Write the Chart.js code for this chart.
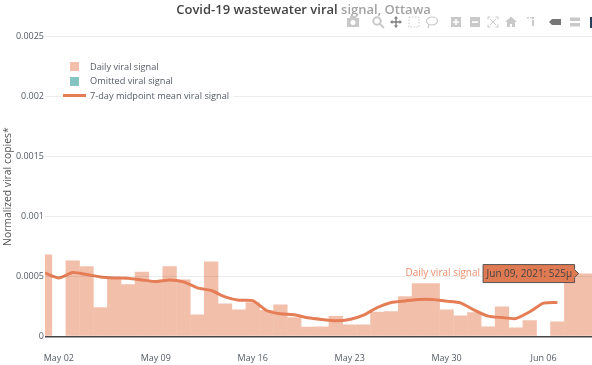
<!DOCTYPE html>
<html>
<head>
<meta charset="utf-8">
<script src="https://cdn.jsdelivr.net/npm/chart.js@4"></script>
<style>html,body{margin:0;padding:0;background:#fff}canvas{display:block}</style>
</head>
<body>
<canvas id="c" width="592" height="365" style="width:592px;height:365px"></canvas>
<script>
const days = ["May 01","May 02","May 03","May 04","May 05","May 06","May 07","May 08","May 09","May 10","May 11","May 12","May 13","May 14","May 15","May 16","May 17","May 18","May 19","May 20","May 21","May 22","May 23","May 24","May 25","May 26","May 27","May 28","May 29","May 30","May 31","Jun 01","Jun 02","Jun 03","Jun 04","Jun 05","Jun 06","Jun 07","Jun 08","Jun 09"];
const daily = [0.000685,null,0.000635,0.000585,0.000245,0.000495,0.000435,0.00054,0.00046,0.000585,0.000475,0.000183,0.000625,0.000275,0.000225,0.000286,0.000222,0.000267,0.000161,0.000081,0.000083,0.000172,0.0001,0.0001,0.000206,0.000211,0.000336,0.000445,0.000445,0.000225,0.000175,0.000203,0.000083,0.00025,0.000075,0.000136,null,0.000125,0.000517,0.000525];
const omitted = [];
const midpointMean = [0.000531,0.000489,0.000534,0.000517,0.000497,0.000489,0.000486,0.000472,0.000458,0.000472,0.000456,0.000406,0.000384,0.000331,0.000303,0.0003,0.000217,0.000189,0.000181,0.000156,0.000142,0.000131,0.000142,0.000178,0.000242,0.000284,0.000297,0.000309,0.000309,0.000295,0.000281,0.00022,0.00017,0.000158,0.00015,0.000206,0.000278,0.000284];
const tickDays = ["May 02","May 09","May 16","May 23","May 30","Jun 06"];
const yTicks = [0,0.0005,0.001,0.0015,0.002,0.0025];
const seriesLabels = ["Daily viral signal","Omitted viral signal","7-day midpoint mean viral signal"];
const titleText = "Covid-19 wastewater viral signal, Ottawa";
const hoverYear = "2021";

const FONT = '"Open Sans"';
const BAR = "#f2bfab", TEAL = "#84c5c2", LINE = "#e57e56", TEXT = "#555b66";
const toXY = arr => arr.map((v,i)=>({x:i,y:v}));

function icon(ctx,x,y,col,fn){ctx.save();ctx.translate(x,y);ctx.fillStyle=col;ctx.strokeStyle=col;ctx.lineWidth=1;fn(ctx);ctx.restore();}
function drawModebar(ctx){
  ctx.save();ctx.fillStyle="rgba(255,255,255,0.5)";ctx.fillRect(340,0,252,30);ctx.restore();
  const g="#c9c9c9",y=22;
  icon(ctx,353,y,g,c=>{c.fillRect(-6,-4,12,9);c.fillRect(-3,-6,6,2);c.fillStyle="#fff";c.beginPath();c.arc(0,0.5,2.5,0,7);c.fill();});
  icon(ctx,378,y,g,c=>{c.lineWidth=2;c.beginPath();c.arc(-1,-1,3.7,0,7);c.stroke();c.beginPath();c.moveTo(2,2);c.lineTo(6,6);c.stroke();});
  icon(ctx,396,y,"#7d7d7d",c=>{c.lineWidth=1.4;c.beginPath();c.moveTo(-5,0);c.lineTo(5,0);c.moveTo(0,-5);c.lineTo(0,5);c.stroke();
    [[-6,0,-3.5,-2,-3.5,2],[6,0,3.5,-2,3.5,2],[0,-6,-2,-3.5,2,-3.5],[0,6,-2,3.5,2,3.5]].forEach(p=>{c.beginPath();c.moveTo(p[0],p[1]);c.lineTo(p[2],p[3]);c.lineTo(p[4],p[5]);c.fill();});});
  icon(ctx,414,y,g,c=>{c.setLineDash([1.5,1.5]);c.strokeRect(-5,-5,10,10);});
  icon(ctx,432,y,g,c=>{c.lineWidth=1.2;c.beginPath();c.ellipse(0,-1,5.5,4,0,0,7);c.stroke();c.beginPath();c.moveTo(-3,2);c.lineTo(-4,6);c.stroke();});
  icon(ctx,456,y,g,c=>{c.fillRect(-5,-5,10,10);c.fillStyle="#fff";c.fillRect(-3,-0.7,6,1.6);c.fillRect(-0.8,-3,1.6,6);});
  icon(ctx,475,y,g,c=>{c.fillRect(-5,-5,10,10);c.fillStyle="#fff";c.fillRect(-3,-0.7,6,1.6);});
  icon(ctx,493,y,g,c=>{c.strokeRect(-5,-5,10,10);c.fillStyle="#fff";c.fillRect(-2.5,-6,5,12);c.fillRect(-6,-2.5,12,5);c.beginPath();c.moveTo(-3,-3);c.lineTo(3,3);c.moveTo(3,-3);c.lineTo(-3,3);c.stroke();});
  icon(ctx,511,y,g,c=>{c.beginPath();c.moveTo(-6,0);c.lineTo(0,-5.5);c.lineTo(6,0);c.lineTo(4,0);c.lineTo(4,5);c.lineTo(1,5);c.lineTo(1,2);c.lineTo(-1,2);c.lineTo(-1,5);c.lineTo(-4,5);c.lineTo(-4,0);c.closePath();c.fill();});
  icon(ctx,533,y,g,c=>{c.fillRect(-1,-2,2,6);c.fillRect(-1,-5,2,2);c.fillRect(-6,-5,2,1.5);c.fillRect(-3,-5,1.5,1.5);});
  icon(ctx,555,y,"#777",c=>{c.beginPath();c.moveTo(-6,0);c.lineTo(-3,-3);c.lineTo(6,-3);c.lineTo(6,3);c.lineTo(-3,3);c.closePath();c.fill();});
  icon(ctx,575,y,g,c=>{c.fillRect(-5,-4.5,10,3.5);c.fillRect(-5,1,10,3.5);});
  icon(ctx,590,y,"#25405f",c=>{c.fillRect(0,-5,2,11);});
}
function drawLegend(ctx,chart){
  const ds=chart.data.datasets;
  ctx.save();
  ctx.fillStyle="#fff";ctx.fillRect(62,55,171,48);
  ctx.fillStyle=BAR;ctx.fillRect(70,62,9,9);
  ctx.fillStyle=TEAL;ctx.fillRect(70,77,9,9);
  ctx.strokeStyle=LINE;ctx.lineWidth=3;ctx.beginPath();ctx.moveTo(63,95.5);ctx.lineTo(86,95.5);ctx.stroke();
  ctx.fillStyle=TEXT;ctx.font="9.2px "+FONT;ctx.textBaseline="middle";ctx.textAlign="left";
  ctx.fillText(ds[0].label,90,67);ctx.fillText(ds[1].label,90,81.5);ctx.fillText(ds[2].label,90,96);
  ctx.restore();
}
function drawHover(ctx,chart){
  const xs=chart.scales.x,ys=chart.scales.y,last=daily.length-1;
  const tip=xs.getPixelForValue(last)-6.5, cy=ys.getPixelForValue(daily[last]);
  const label=days[last]+", "+hoverYear+": "+Math.round(daily[last]*1e6)+"μ";
  const r=tip-4,l=r-91.5,t=cy-9,b=cy+9;
  ctx.save();
  ctx.fillStyle="#e07a52";ctx.strokeStyle="#555";ctx.lineWidth=1;
  ctx.beginPath();ctx.moveTo(l,t);ctx.lineTo(r,t);ctx.lineTo(r,cy-4);ctx.lineTo(tip,cy);ctx.lineTo(r,cy+4);ctx.lineTo(r,b);ctx.lineTo(l,b);ctx.closePath();ctx.fill();ctx.stroke();
  ctx.fillStyle="#444";ctx.font="10px "+FONT;ctx.textBaseline="middle";ctx.textAlign="left";
  ctx.fillText(label,l+3.5,cy+0.5);
  ctx.fillStyle="#e98f6e";ctx.textAlign="right";
  ctx.fillText(seriesLabels[0],l-3,cy);
  ctx.restore();
}
const overlay={id:"overlay",
  afterLayout(chart){const t=chart.titleBlock;t.left+=7.5;t.right+=7.5;},
  afterDraw(chart){const c=chart.ctx;drawLegend(c,chart);drawHover(c,chart);drawModebar(c);}};

new Chart(document.getElementById("c"),{
  type:"bar",
  data:{datasets:[
    {type:"bar",label:seriesLabels[0],data:toXY(daily),backgroundColor:BAR,borderWidth:0,barPercentage:1.03,categoryPercentage:1,grouped:false,order:2},
    {type:"bar",label:seriesLabels[1],data:toXY(omitted),backgroundColor:TEAL,borderWidth:0,barPercentage:1,categoryPercentage:1,grouped:false,order:3},
    {type:"line",label:seriesLabels[2],data:toXY(midpointMean),borderColor:LINE,borderWidth:3,pointRadius:0,tension:0.2,fill:false,order:1}
  ]},
  options:{
    responsive:false,animation:false,devicePixelRatio:1,
    layout:{padding:0},
    plugins:{
      legend:{display:false},tooltip:{enabled:false},
      title:{display:true,text:titleText,color:"#444",align:"center",font:{family:FONT,size:13,weight:"600",lineHeight:1.2},padding:{top:2,bottom:19.2}}
    },
    scales:{
      x:{type:"linear",min:0,max:39.5,offset:false,
        afterBuildTicks(s){s.ticks=tickDays.map(d=>({value:days.indexOf(d)}));},
        afterFit(s){s.height=28.5;},
        grid:{display:false},border:{display:false},
        ticks:{autoSkip:false,maxRotation:0,padding:9,color:TEXT,font:{family:FONT,size:9},callback:v=>days[v]}},
      y:{type:"linear",min:0,max:0.0025,
        afterBuildTicks(s){s.ticks=yTicks.map(v=>({value:v}));},
        afterFit(s){s.width=45;},
        grid:{z:1,color:c=>c.tick.value===0?"#444":"rgba(0,0,0,0.07)",lineWidth:c=>c.tick.value===0?1.5:1,drawTicks:false},border:{display:false},
        title:{display:true,text:"Normalized viral copies*",color:"#555",font:{family:FONT,size:10.4},padding:{top:2,bottom:0}},
        ticks:{padding:1,color:TEXT,font:{family:FONT,size:9},callback:v=>String(v)}}
    }
  },
  plugins:[overlay]
});
</script>
</body>
</html>
